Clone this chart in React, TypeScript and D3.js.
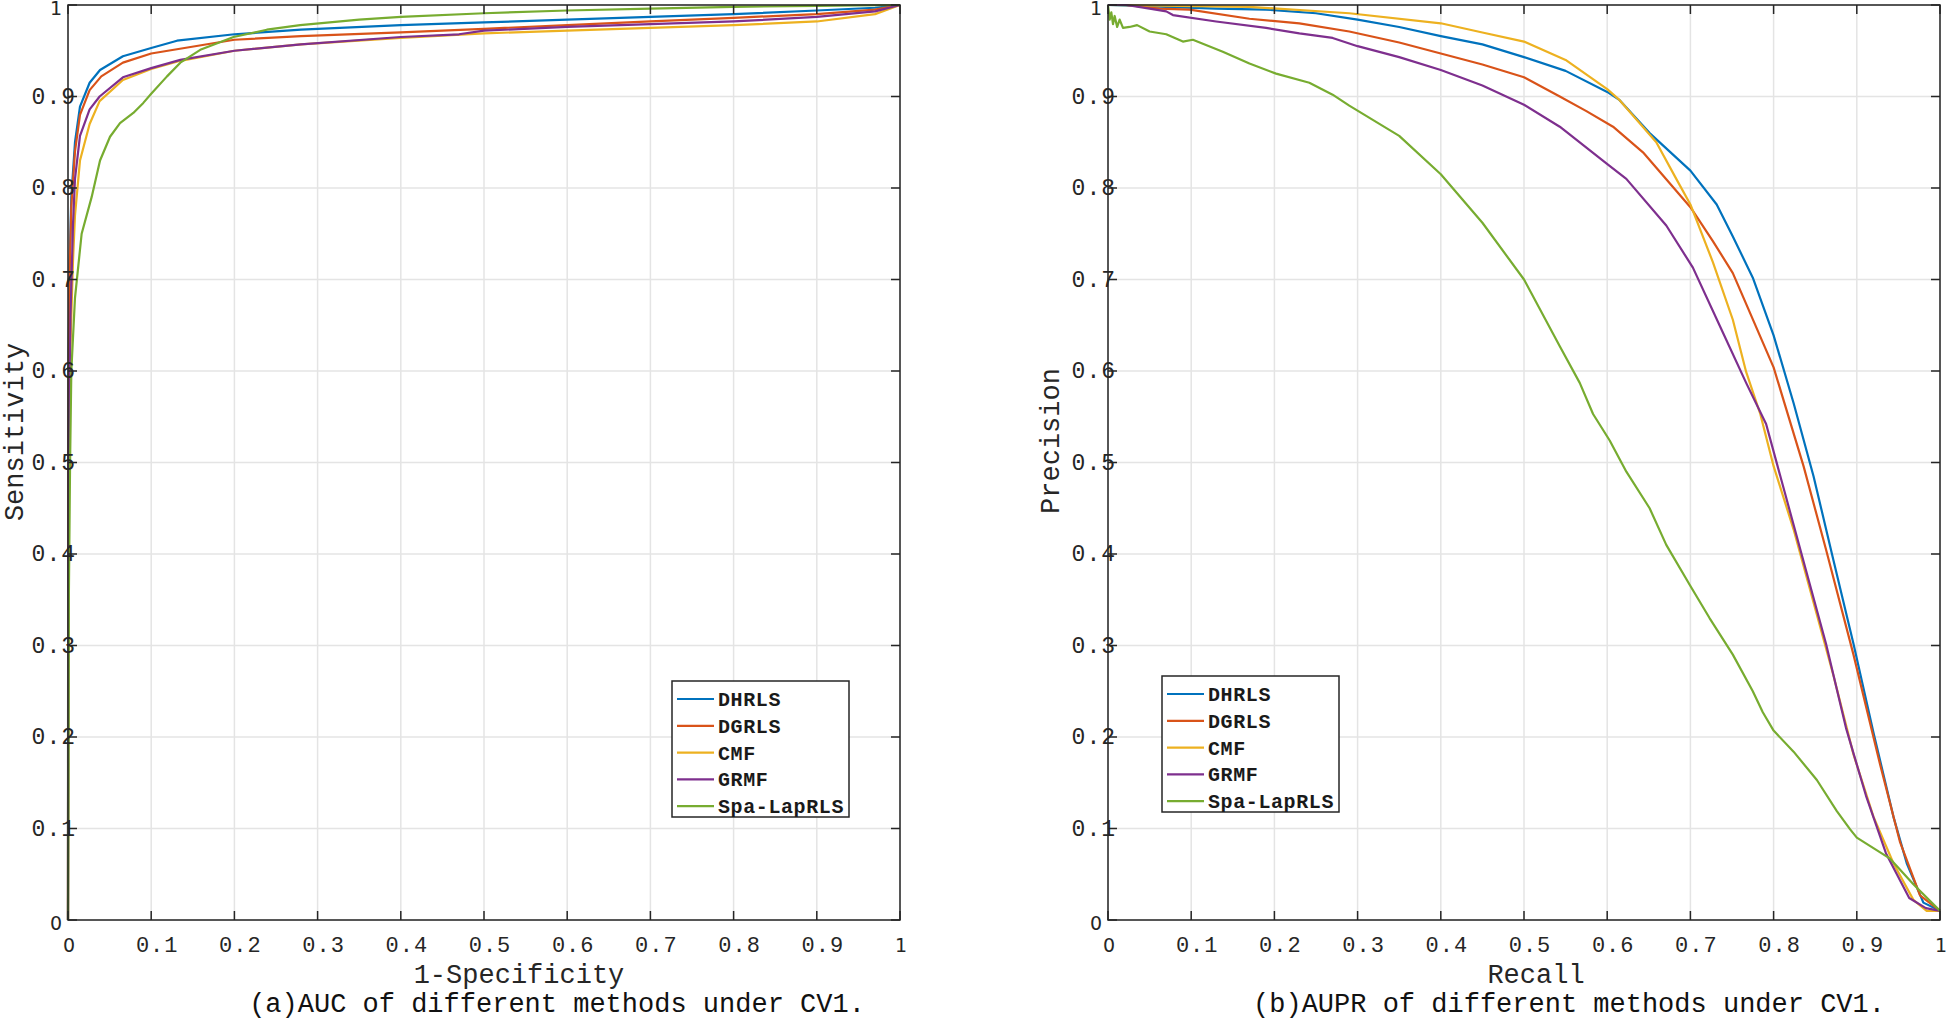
import * as d3 from "d3";

type Pt = [number, number];

const methods = ["DHRLS", "DGRLS", "CMF", "GRMF", "Spa-LapRLS"];
const colors = ["#0072BD", "#D95319", "#EDB120", "#7E2F8E", "#77AC30"];

const tickValues = [0, 0.1, 0.2, 0.3, 0.4, 0.5, 0.6, 0.7, 0.8, 0.9, 1];
const tickLabels = ["0", "0.1", "0.2", "0.3", "0.4", "0.5", "0.6", "0.7", "0.8", "0.9", "1"];

// ROC curves: [1-specificity, sensitivity]
const rocDHRLS: Pt[] = [
  [0, 0], [0.0002, 0.45], [0.0008, 0.62], [0.002, 0.72], [0.004, 0.79], [0.0084, 0.85],
  [0.0144, 0.889], [0.026, 0.915], [0.0385, 0.929], [0.066, 0.944], [0.1, 0.953],
  [0.131, 0.961], [0.2, 0.968], [0.28, 0.973], [0.4, 0.978], [0.5, 0.981], [0.6, 0.984],
  [0.7, 0.987], [0.8, 0.99], [0.9, 0.994], [0.97, 0.997], [1, 1],
];
const rocDGRLS: Pt[] = [
  [0, 0], [0.0002, 0.42], [0.0008, 0.6], [0.002, 0.71], [0.004, 0.78], [0.0084, 0.84],
  [0.0144, 0.88], [0.026, 0.907], [0.04, 0.922], [0.066, 0.937], [0.1, 0.947],
  [0.2, 0.962], [0.28, 0.966], [0.4, 0.97], [0.5, 0.974], [0.6, 0.978], [0.7, 0.982],
  [0.8, 0.986], [0.9, 0.99], [0.97, 0.995], [1, 1],
];
const rocCMF: Pt[] = [
  [0, 0], [0.0003, 0.35], [0.001, 0.5], [0.003, 0.63], [0.006, 0.72], [0.0084, 0.77],
  [0.0144, 0.83], [0.026, 0.87], [0.038, 0.895], [0.066, 0.918], [0.1, 0.93],
  [0.135, 0.939], [0.2, 0.95], [0.28, 0.957], [0.4, 0.964], [0.5, 0.969], [0.6, 0.972],
  [0.7, 0.975], [0.8, 0.978], [0.9, 0.982], [0.97, 0.99], [1, 1],
];
const rocGRMF: Pt[] = [
  [0, 0], [0.0003, 0.38], [0.001, 0.53], [0.003, 0.66], [0.006, 0.76], [0.0084, 0.81],
  [0.0144, 0.857], [0.026, 0.886], [0.038, 0.9], [0.066, 0.921], [0.1, 0.931],
  [0.135, 0.94], [0.2, 0.95], [0.28, 0.957], [0.4, 0.965], [0.47, 0.968], [0.5, 0.972],
  [0.6, 0.976], [0.7, 0.979], [0.8, 0.982], [0.9, 0.987], [0.97, 0.993], [1, 1],
];
const rocSpa: Pt[] = [
  [0, 0], [0.0006, 0.15], [0.001, 0.35], [0.0025, 0.5], [0.004, 0.6], [0.0084, 0.68],
  [0.0164, 0.75], [0.0284, 0.79], [0.0385, 0.83], [0.0505, 0.856], [0.0625, 0.871],
  [0.0785, 0.882], [0.0905, 0.893], [0.1, 0.903], [0.119, 0.922], [0.135, 0.937],
  [0.159, 0.951], [0.199, 0.965], [0.239, 0.973], [0.279, 0.978], [0.35, 0.984],
  [0.4, 0.987], [0.5, 0.991], [0.6, 0.994], [0.7, 0.996], [0.8, 0.998], [0.9, 0.999], [1, 1],
];

// PR curves: [recall, precision]
const prDHRLS: Pt[] = [
  [0, 1], [0.07, 0.998], [0.13, 0.996], [0.19, 0.995], [0.25, 0.991], [0.3, 0.984],
  [0.35, 0.976], [0.4, 0.966], [0.45, 0.957], [0.5, 0.943], [0.55, 0.928], [0.6, 0.905],
  [0.615, 0.896], [0.651, 0.86], [0.7, 0.819], [0.7316, 0.782], [0.751, 0.747],
  [0.775, 0.702], [0.8, 0.639], [0.824, 0.565], [0.848, 0.485], [0.872, 0.393],
  [0.896, 0.302], [0.92, 0.205], [0.944, 0.113], [0.96, 0.062], [0.98, 0.019], [1, 0.01],
];
const prDGRLS: Pt[] = [
  [0, 1], [0.022, 1], [0.062, 0.996], [0.098, 0.995], [0.17, 0.985], [0.23, 0.98],
  [0.29, 0.971], [0.35, 0.959], [0.4, 0.947], [0.45, 0.935], [0.5, 0.921], [0.543, 0.9],
  [0.575, 0.884], [0.607, 0.867], [0.643, 0.839], [0.7, 0.779], [0.727, 0.742],
  [0.751, 0.707], [0.8, 0.604], [0.836, 0.496], [0.863, 0.405], [0.896, 0.29],
  [0.928, 0.17], [0.952, 0.085], [0.976, 0.027], [1, 0.01],
];
const prCMF: Pt[] = [
  [0, 1], [0.17, 0.998], [0.29, 0.991], [0.4, 0.98], [0.45, 0.97], [0.5, 0.96],
  [0.55, 0.94], [0.6, 0.908], [0.615, 0.896], [0.659, 0.85], [0.683, 0.81], [0.7, 0.782],
  [0.727, 0.719], [0.751, 0.656], [0.767, 0.599], [0.784, 0.553], [0.8, 0.496],
  [0.824, 0.427], [0.848, 0.347], [0.872, 0.267], [0.896, 0.181], [0.92, 0.113],
  [0.944, 0.062], [0.968, 0.022], [0.984, 0.01], [1, 0.01],
];
const prGRMF: Pt[] = [
  [0, 1], [0.022, 1], [0.05, 0.996], [0.07, 0.993], [0.078, 0.989], [0.13, 0.982],
  [0.19, 0.975], [0.23, 0.969], [0.27, 0.964], [0.3, 0.955], [0.35, 0.943], [0.4, 0.929],
  [0.45, 0.912], [0.5, 0.891], [0.543, 0.867], [0.599, 0.827], [0.623, 0.81],
  [0.671, 0.759], [0.703, 0.713], [0.735, 0.65], [0.767, 0.587], [0.791, 0.542],
  [0.815, 0.462], [0.839, 0.382], [0.863, 0.302], [0.887, 0.21], [0.911, 0.136],
  [0.935, 0.073], [0.963, 0.024], [0.983, 0.013], [1, 0.01],
];
const prSpa: Pt[] = [
  [0, 1], [0.002, 0.984], [0.004, 0.992], [0.006, 0.979], [0.008, 0.988], [0.011, 0.976],
  [0.014, 0.984], [0.018, 0.975], [0.026, 0.976], [0.035, 0.978], [0.05, 0.971],
  [0.07, 0.968], [0.09, 0.96], [0.102, 0.962], [0.138, 0.949], [0.17, 0.936],
  [0.202, 0.925], [0.242, 0.915], [0.27, 0.902], [0.29, 0.89], [0.35, 0.857],
  [0.4, 0.815], [0.45, 0.762], [0.5, 0.7], [0.543, 0.627], [0.567, 0.587], [0.583, 0.553],
  [0.603, 0.524], [0.623, 0.49], [0.651, 0.45], [0.671, 0.41], [0.7, 0.365],
  [0.723, 0.33], [0.751, 0.29], [0.775, 0.25], [0.787, 0.227], [0.8, 0.207],
  [0.824, 0.184], [0.852, 0.153], [0.876, 0.119], [0.892, 0.099], [0.9, 0.09],
  [0.94, 0.067], [0.968, 0.039], [1, 0.01],
];

const rocSeries = [rocDHRLS, rocDGRLS, rocCMF, rocGRMF, rocSpa];
const prSeries = [prDHRLS, prDGRLS, prCMF, prGRMF, prSpa];

const MONO = "'Liberation Mono', 'DejaVu Sans Mono', monospace";
const SANS = "'DejaVu Sans', sans-serif";

interface PanelProps {
  left: number;
  series: Pt[][];
  xTitle: string;
  xTitleX: number;
  yTitle: string;
  yTitleX: number;
  yTitleY: number;
  caption: string;
  captionX: number;
  legend: { x: number; y: number };
}

function Panel(p: PanelProps) {
  const top = 5,
    bottom = 920,
    w = 832;
  const x = d3.scaleLinear().domain([0, 1]).range([p.left, p.left + w]);
  const y = d3.scaleLinear().domain([0, 1]).range([bottom, top]);
  const line = d3
    .line<Pt>()
    .x((d) => x(d[0]))
    .y((d) => y(d[1]));
  const tl = 9;
  const lg = p.legend;
  return (
    <g>
      {/* grid */}
      {tickValues.map((t, i) => (
        <g key={"g" + i}>
          <line x1={x(t)} x2={x(t)} y1={top} y2={bottom} stroke="#e4e4e4" strokeWidth={1.5} />
          <line x1={p.left} x2={p.left + w} y1={y(t)} y2={y(t)} stroke="#e4e4e4" strokeWidth={1.5} />
        </g>
      ))}
      {/* curves */}
      {p.series.map((s, i) => (
        <path key={"s" + i} d={line(s) ?? ""} fill="none" stroke={colors[i]} strokeWidth={2.2} strokeLinejoin="round" />
      ))}
      {/* box */}
      <rect x={p.left} y={top} width={w} height={bottom - top} fill="none" stroke="#262626" strokeWidth={1.5} />
      {/* ticks */}
      {tickValues.map((t, i) => (
        <g key={"t" + i} stroke="#262626" strokeWidth={1.5}>
          <line x1={x(t)} x2={x(t)} y1={bottom} y2={bottom - tl} />
          <line x1={x(t)} x2={x(t)} y1={top} y2={top + tl} />
          <line x1={p.left} x2={p.left + tl} y1={y(t)} y2={y(t)} />
          <line x1={p.left + w} x2={p.left + w - tl} y1={y(t)} y2={y(t)} />
        </g>
      ))}
      {/* tick labels */}
      {tickValues.map((t, i) => {
        const lab = tickLabels[i];
        const short = lab.length === 1;
        return (
          <g key={"l" + i} fill="#262626">
            <text
              x={x(t) + (short ? 1 : 6)}
              y={952}
              textAnchor="middle"
              fontFamily={short ? SANS : MONO}
              fontSize={short ? 19 : 22}
              letterSpacing={short ? 0 : 1}
            >
              {lab}
            </text>
            <text
              x={p.left + (short ? -6 : 8)}
              y={y(t) + (short ? 9.5 : 7)}
              textAnchor="end"
              fontFamily={short ? SANS : MONO}
              fontSize={short ? 19 : 23}
              letterSpacing={short ? 0 : 1}
            >
              {lab}
            </text>
          </g>
        );
      })}
      {/* axis titles */}
      <text x={p.xTitleX} y={983} textAnchor="middle" fontFamily={MONO} fontSize={27} fill="#262626">
        {p.xTitle}
      </text>
      <text
        transform={`translate(${p.yTitleX},${p.yTitleY}) rotate(-90)`}
        textAnchor="middle"
        fontFamily={MONO}
        fontSize={27}
        fill="#262626"
      >
        {p.yTitle}
      </text>
      <text x={p.captionX} y={1012} textAnchor="middle" fontFamily={MONO} fontSize={27} fill="#111">
        {p.caption}
      </text>
      {/* legend */}
      <rect x={lg.x} y={lg.y} width={177} height={136} fill="#fff" stroke="#262626" strokeWidth={1.5} />
      {methods.map((m, i) => {
        const cy = lg.y + 18 + i * 26.8;
        return (
          <g key={"lg" + i}>
            <line x1={lg.x + 5} x2={lg.x + 42} y1={cy} y2={cy} stroke={colors[i]} strokeWidth={2.2} />
            <text x={lg.x + 46} y={cy + 7} fontFamily={MONO} fontSize={20} fontWeight={700} letterSpacing={0.6} fill="#1a1a1a">
              {m}
            </text>
          </g>
        );
      })}
    </g>
  );
}

export default function App() {
  return (
    <svg
      width={1946}
      height={1019}
      style={{ position: "absolute", left: 0, top: 0, background: "#fff" }}
    >
      <Panel
        left={68}
        series={rocSeries}
        xTitle="1-Specificity"
        xTitleX={519}
        yTitle="Sensitivity"
        yTitleX={23}
        yTitleY={432}
        caption="(a)AUC of different methods under CV1."
        captionX={557}
        legend={{ x: 672, y: 681 }}
      />
      <Panel
        left={1108}
        series={prSeries}
        xTitle="Recall"
        xTitleX={1536}
        yTitle="Precision"
        yTitleX={1059}
        yTitleY={441}
        caption="(b)AUPR of different methods under CV1."
        captionX={1569}
        legend={{ x: 1162, y: 676 }}
      />
    </svg>
  );
}
